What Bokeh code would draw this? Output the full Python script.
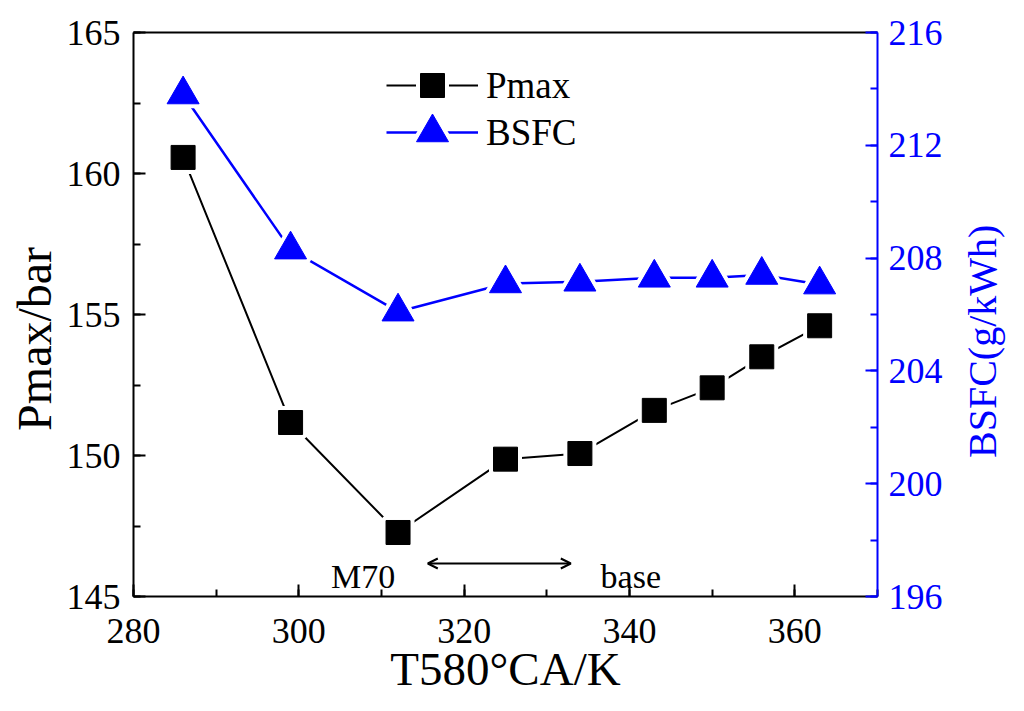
from math import pi

from bokeh.plotting import figure
from bokeh.layouts import row
from bokeh.models import (Range1d, LinearAxis, SingleIntervalTicker, FixedTicker,
                          Legend, LegendItem, Label, Arrow, OpenHead)
from bokeh.embed import file_html
from bokeh.resources import INLINE

# data
temp = [286, 299, 312, 325, 334, 343, 350, 356, 363]          # T580°CA / K
pmax = [160.57, 151.17, 147.27, 149.87, 150.07, 151.6, 152.4, 153.5, 154.6]   # bar
bsfc = [213.8, 208.3, 206.1, 207.1, 207.16, 207.3, 207.3, 207.4, 207.06]     # g/kWh

FONT = "Liberation Serif"
BLUE = "#0000ff"
H = 705
LW = 63          # width of the left title strip
RW = 73          # width of the right title strip
YFIX = 45        # rotated labels land this many px above the asked spot

p = figure(width=947 - LW, height=H, output_backend="svg", toolbar_location=None,
           x_range=Range1d(280, 370), y_range=Range1d(145, 165),
           min_border_left=133 - LW, min_border_right=70, min_border_top=32, min_border_bottom=109,
           x_axis_type=None, y_axis_type=None)
p.extra_y_ranges = {"bsfc": Range1d(196, 216)}
p.outline_line_color = None
p.xgrid.visible = False
p.ygrid.visible = False


def style_axis(ax, color, interval):
    ax.ticker = SingleIntervalTicker(interval=interval, num_minor_ticks=2)
    ax.axis_line_color = color
    ax.axis_line_width = 2
    ax.major_tick_line_color = color
    ax.minor_tick_line_color = color
    ax.major_tick_line_width = 2
    ax.minor_tick_line_width = 2
    ax.major_tick_in = 12
    ax.major_tick_out = 0
    ax.minor_tick_in = 7
    ax.minor_tick_out = 0
    ax.major_label_text_font = FONT
    ax.major_label_text_font_size = "36px"
    ax.major_label_text_color = color
    ax.axis_label_text_font = FONT
    ax.axis_label_text_font_size = "47px"
    ax.axis_label_text_font_style = "normal"
    ax.axis_label_text_color = color


xaxis = LinearAxis(axis_label="T580°CA/K")
style_axis(xaxis, "black", 20)
xaxis.major_label_standoff = 22
xaxis.axis_label_standoff = -3
p.add_layout(xaxis, "below")

yaxis = LinearAxis()
style_axis(yaxis, "black", 5)
yaxis.major_label_standoff = 13
p.add_layout(yaxis, "left")

raxis = LinearAxis(y_range_name="bsfc")
style_axis(raxis, BLUE, 4)
raxis.major_label_standoff = 11
p.add_layout(raxis, "right")

top = LinearAxis(ticker=FixedTicker(ticks=[]))
top.axis_line_width = 2
top.major_tick_in = 0
top.major_tick_out = 0
top.minor_tick_in = 0
top.minor_tick_out = 0
p.add_layout(top, "above")

# Pmax series
l1 = p.line(temp, pmax, line_color="black", line_width=2)
h1 = p.scatter(temp, pmax, marker="square", size=24, fill_color="white",
               line_color="white", line_width=9, line_join="round")
m1 = p.scatter(temp, pmax, marker="square", size=24, fill_color="black", line_color="black")

# BSFC series on the right axis
l2 = p.line(temp, bsfc, line_color=BLUE, line_width=2.5, y_range_name="bsfc")
h2 = p.scatter(temp, bsfc, marker="triangle", size=32, fill_color="white",
               line_color="white", line_width=9, line_join="round", y_range_name="bsfc")
m2 = p.scatter(temp, bsfc, marker="triangle", size=32, fill_color=BLUE, line_color=BLUE,
               y_range_name="bsfc")

# legend, one box per row so the markers can be big
for item, gh, loc in [(LegendItem(label="Pmax", renderers=[l1, h1, m1]), 60, (253, 481)),
                      (LegendItem(label="BSFC", renderers=[l2, h2, m2]), 80, (253, 424))]:
    leg = Legend(items=[item], location=loc, glyph_width=92, glyph_height=gh,
                 label_standoff=8, label_text_font=FONT, label_text_font_size="37px",
                 label_text_color="black",
                 border_line_color=None, background_fill_alpha=0, padding=0, margin=0)
    p.add_layout(leg)

# M70 <-> base annotation
p.add_layout(Label(x=303.9, y=145.71, text="M70", text_font=FONT, text_font_size="34px",
                   text_color="black", text_baseline="alphabetic"))
p.add_layout(Label(x=336.5, y=145.71, text="base", text_font=FONT, text_font_size="34px",
                   text_color="black", text_baseline="alphabetic"))
p.add_layout(Arrow(start=OpenHead(size=10, line_width=2), end=OpenHead(size=10, line_width=2),
                   x_start=315.6, y_start=146.17, x_end=332.9, y_end=146.17, line_width=2))


# narrow strips holding the y titles, both reading bottom to top
def strip(width, text, color, size, cx, cy):
    s = figure(width=width, height=H, output_backend="svg", toolbar_location=None,
               x_range=Range1d(0, width), y_range=Range1d(0, H),
               x_axis_location=None, y_axis_location=None,
               min_border_left=0, min_border_right=0, min_border_top=0, min_border_bottom=0)
    s.outline_line_color = None
    s.xgrid.visible = False
    s.ygrid.visible = False
    s.add_layout(Label(x=cx, y=H - cy - YFIX, text=text, text_font=FONT, text_font_size=size,
                       text_color=color, text_align="center", text_baseline="middle",
                       angle=pi / 2))
    return s


left = strip(LW, "Pmax/bar", "black", "48px", 34, 338)
right = strip(RW, "BSFC(g/kWh)", BLUE, "40px", 982 - 947, 341)

layout = row(left, p, right)

open("out.html", "w").write(file_html(layout, INLINE))
